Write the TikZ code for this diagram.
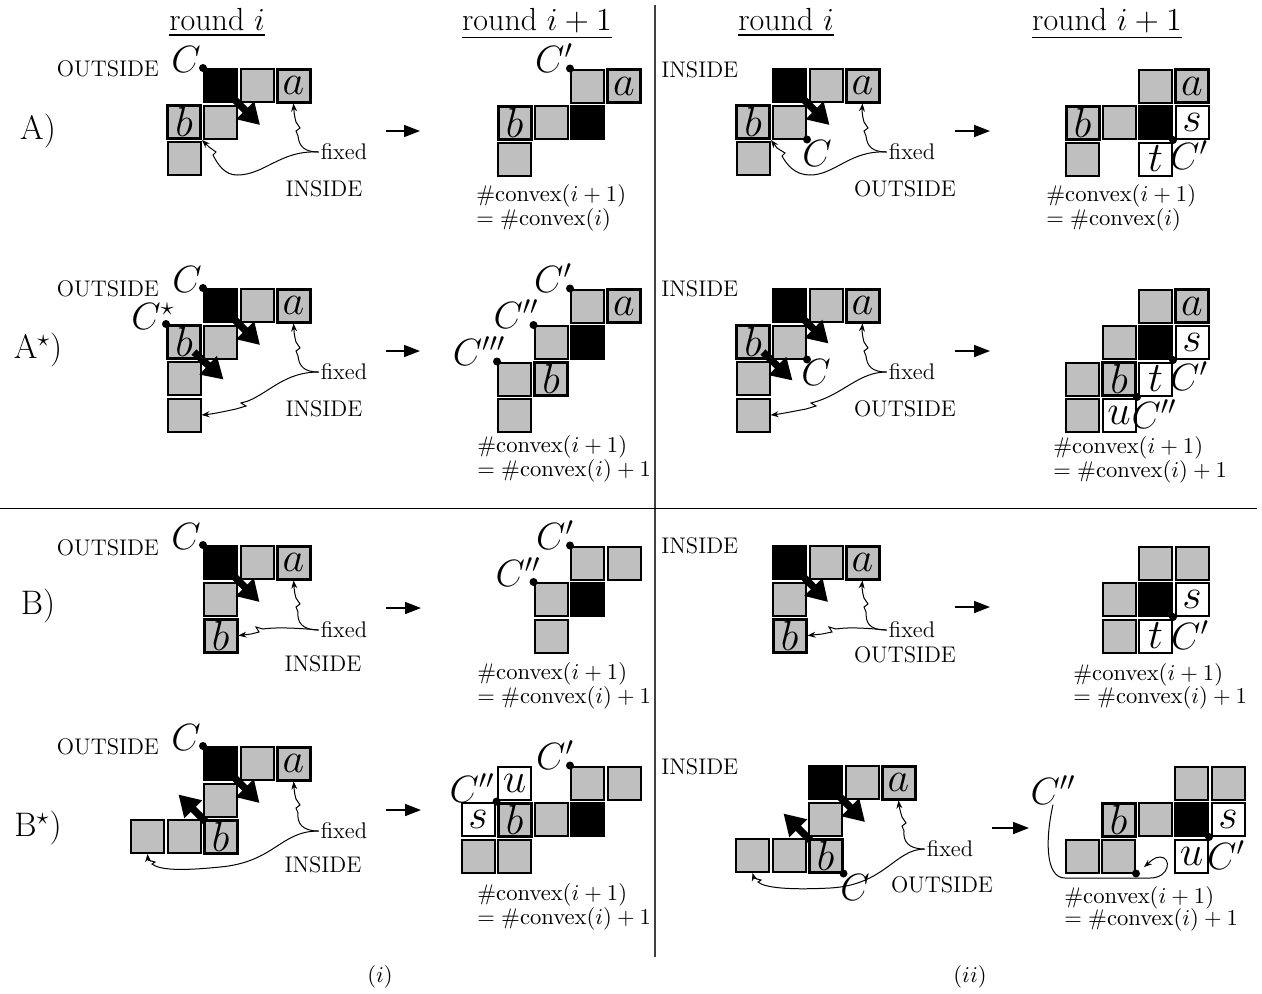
\RequirePackage{fix-cm}
\documentclass[tikz,border=0pt]{standalone}
\usepackage{amsmath}
\usepackage{tikz}
\usetikzlibrary{calc,arrows.meta}

\tikzset{
  cell/.style={draw, line width=1pt, fill=gray!50, minimum size=16.5pt, inner sep=0pt, font=\fontsize{21}{21}\selectfont},
  lcell/.style={cell, line width=1.5pt},
  blk/.style={cell, fill=black},
  wcell/.style={cell, fill=white},
  txt/.style={font=\fontsize{11.3}{13}\selectfont, inner sep=1pt},
  clab/.style={font=\fontsize{19}{19}\selectfont, inner sep=0pt},
  cvx/.style={font=\fontsize{11.3}{13}\selectfont, inner sep=0pt, anchor=base west},
  hd/.style={font=\fontsize{16}{18}\selectfont, anchor=base},
  rowlab/.style={font=\fontsize{17}{19}\selectfont},
  mv/.style={line width=3.6pt, -{Triangle[length=10.5pt,width=12pt]}},
  go/.style={line width=0.8pt, -{Triangle[length=8pt,width=6pt]}},
  fx/.style={line width=0.5pt, -{Stealth[length=4pt,width=3pt]}},
  pt/.style={circle, fill=black, inner sep=0pt, minimum size=4pt}
}

\begin{document}
\begin{tikzpicture}[x=0.5pt,y=-0.5pt]
    \useasboundingbox (0,0) rectangle (1262,993);

    % frame
    \draw[line width=0.8pt, black!75] (655,5) -- (655,957);
    \draw[line width=0.5pt] (0,508) -- (1257,508);

    \node[hd] (h1) at (217,30) {\underline{round $i$}};
    \node[hd] (h2) at (537,30) {\underline{round $i+1$}};
    \node[hd] (h3) at (786,30) {\underline{round $i$}};
    \node[hd] (h4) at (1107,30) {\underline{round $i+1$}};

    \node[rowlab] (lA) at (38,131) {A)};
    \node[rowlab] (lAs) at (38,350) {A$^\star$)};
    \node[rowlab] (lB) at (38,606) {B)};
    \node[rowlab] (lBs) at (38,828) {B$^\star$)};

    \node[txt] (capi) at (380,977) {$(i)$};
    \node[txt] (capii) at (970,977) {$(ii)$};

    % A, (i), round i
    \node[blk] (a1k) at (220.5,85.5) {};
    \node[cell] (a1g1) at ($(a1k)+(36.5,0)$) {};
    \node[lcell] (a1a) at ($(a1k)+(73,0)$) {$a$};
    \node[lcell] (a1b) at ($(a1k)+(-36.5,36.5)$) {$b$};
    \node[cell] (a1g2) at ($(a1k)+(0,36.5)$) {};
    \node[cell] (a1g3) at ($(a1k)+(-36.5,73)$) {};
    \node[pt] (a1d) at (a1k.north west) {};
    \node[clab] (a1C) at (186,60) {$C$};
    \node[txt] (a1out) at (108,69) {OUTSIDE};
    \node[txt] (a1fix) at (344,152) {fixed};
    \node[txt] (a1in) at (324,189) {INSIDE};
    \coordinate (a1m) at ($(a1k)+(39.5,39.5)$);
    \draw[mv] (a1k.center) -- (a1m);
    \draw[fx] (a1fix.west) .. controls (304,152) and (299,146) .. (298,136) -- (296,131) -- (300,128) -- (296,122) .. controls (294,115) and (294,110) .. (a1a.south);
    \draw[fx] (a1fix.west) .. controls (280,150) and (265,175) .. (237,175) .. controls (225,175) and (218,165) .. (213,155) -- (216,152) -- (209,147) -- (a1b.south east);
    \coordinate (a1p) at (386,131);
    \coordinate (a1q) at (420,131);
    \draw[go] (a1p) -- (a1q);

    % A, (i), round i+1
    \node[blk] (a2k) at (587.5,122.5) {};
    \node[cell] (a2g1) at ($(a2k)+(0,-36.5)$) {};
    \node[lcell] (a2a) at ($(a2k)+(36.5,-36.5)$) {$a$};
    \node[cell] (a2g2) at ($(a2k)+(-36.5,0)$) {};
    \node[lcell] (a2b) at ($(a2k)+(-73,0)$) {$b$};
    \node[cell] (a2g3) at ($(a2k)+(-73,36.5)$) {};
    \node[pt] (a2d) at (a2g1.north west) {};
    \node[clab] (a2C) at (554,58) {$C'$};
    \node[cvx] (a2v1) at (476,201) {$\#\mathrm{convex}(i+1)$};
    \node[cvx] (a2v2) at (476,225) {$=\#\mathrm{convex}(i)$};

    % A, (ii), round i
    \node[txt, anchor=west] (a3in) at (659,70) {INSIDE};
    \node[blk] (a3k) at (789.5,85.5) {};
    \node[cell] (a3g1) at ($(a3k)+(36.5,0)$) {};
    \node[lcell] (a3a) at ($(a3k)+(73,0)$) {$a$};
    \node[lcell] (a3b) at ($(a3k)+(-36.5,36.5)$) {$b$};
    \node[cell] (a3g2) at ($(a3k)+(0,36.5)$) {};
    \node[cell] (a3g3) at ($(a3k)+(-36.5,73)$) {};
    \node[pt] (a3d) at (a3g2.south east) {};
    \node[clab] (a3C) at (817,154) {$C$};
    \node[txt] (a3fix) at (912,152) {fixed};
    \node[txt] (a3out) at (905,189) {OUTSIDE};
    \coordinate (a3m) at ($(a3k)+(40,39.5)$);
    \draw[mv] (a3k.center) -- (a3m);
    \draw[fx] (a3fix.west) .. controls (872,152) and (867,146) .. (866,136) -- (864,131) -- (868,128) -- (864,122) .. controls (862,115) and (862,110) .. (a3a.south);
    \draw[fx] (a3fix.west) .. controls (850,150) and (835,175) .. (810,175) .. controls (795,175) and (787,165) .. (782,156) -- (785,153) -- (777,148) -- (a3b.south east);
    \coordinate (a3p) at (955,131);
    \coordinate (a3q) at (990,131);
    \draw[go] (a3p) -- (a3q);

    % A, (ii), round i+1
    \node[blk] (a4k) at (1155.5,122.5) {};
    \node[cell] (a4g1) at ($(a4k)+(0,-36.5)$) {};
    \node[lcell] (a4a) at ($(a4k)+(36.5,-36.5)$) {$a$};
    \node[wcell] (a4s) at ($(a4k)+(36.5,0)$) {$s$};
    \node[cell] (a4g2) at ($(a4k)+(-36.5,0)$) {};
    \node[lcell] (a4b) at ($(a4k)+(-73,0)$) {$b$};
    \node[cell] (a4g3) at ($(a4k)+(-73,36.5)$) {};
    \node[wcell] (a4t) at ($(a4k)+(0,36.5)$) {$t$};
    \node[pt] (a4d) at (a4k.south east) {};
    \node[clab] (a4C) at (1189,155) {$C'$};
    \node[cvx] (a4v1) at (1046,201) {$\#\mathrm{convex}(i+1)$};
    \node[cvx] (a4v2) at (1046,225) {$=\#\mathrm{convex}(i)$};

    % A*, (i), round i
    \node[blk] (as1k) at (220.5,305.5) {};
    \node[cell] (as1g1) at ($(as1k)+(36.5,0)$) {};
    \node[lcell] (as1a) at ($(as1k)+(73,0)$) {$a$};
    \node[lcell] (as1b) at ($(as1k)+(-36.5,36.5)$) {$b$};
    \node[cell] (as1g2) at ($(as1k)+(0,36.5)$) {};
    \node[cell] (as1g3) at ($(as1k)+(-36.5,73)$) {};
    \node[cell] (as1g4) at ($(as1k)+(-36.5,109.5)$) {};
    \coordinate (as1m) at ($(as1k)+(39.5,39.5)$);
    \coordinate (as1n) at ($(as1b)+(39.5,37.5)$);
    \draw[mv] (as1k.center) -- (as1m);
    \draw[mv] ($(as1b)+(10,10)$) -- (as1n);
    \node[pt] (as1d) at (as1k.north west) {};
    \node[pt] (as1e) at (as1b.north west) {};
    \node[clab] (as1C) at (187,280) {$C$};
    \node[clab] (as1Cs) at (153,316) {$C^\star$};
    \node[txt] (as1out) at (108,289) {OUTSIDE};
    \node[txt] (as1fix) at (344,372) {fixed};
    \node[txt] (as1in) at (324,409) {INSIDE};
    \draw[fx] (as1fix.west) .. controls (304,372) and (299,366) .. (298,356) -- (296,351) -- (300,348) -- (296,342) .. controls (294,335) and (294,330) .. (as1a.south);
    \draw[fx] (as1fix.west) .. controls (285,372) and (270,392) .. (248,401) -- (241,403) -- (246,406) -- (236,409) .. controls (222,412) and (212,414) .. (as1g4.east);
    \coordinate (as1p) at (386,351);
    \coordinate (as1q) at (420,351);
    \draw[go] (as1p) -- (as1q);

    % A*, (i), round i+1
    \node[blk] (as2k) at (587.5,342.5) {};
    \node[cell] (as2g1) at ($(as2k)+(0,-36.5)$) {};
    \node[lcell] (as2a) at ($(as2k)+(36.5,-36.5)$) {$a$};
    \node[cell] (as2g2) at ($(as2k)+(-36.5,0)$) {};
    \node[lcell] (as2b) at ($(as2k)+(-36.5,36.5)$) {$b$};
    \node[cell] (as2g3) at ($(as2k)+(-73,36.5)$) {};
    \node[cell] (as2g4) at ($(as2k)+(-73,73)$) {};
    \node[pt] (as2d1) at (as2g1.north west) {};
    \node[pt] (as2d2) at (as2g2.north west) {};
    \node[pt] (as2d3) at (as2g3.north west) {};
    \node[clab] (as2C1) at (553,278) {$C'$};
    \node[clab] (as2C2) at (516,314) {$C''$};
    \node[clab] (as2C3) at (479,351) {$C'''$};
    \node[cvx] (as2v1) at (477,452) {$\#\mathrm{convex}(i+1)$};
    \node[cvx] (as2v2) at (477,476) {$=\#\mathrm{convex}(i)+1$};

    % A*, (ii), round i
    \node[txt, anchor=west] (as3in) at (659,289) {INSIDE};
    \node[blk] (as3k) at (789.5,305.5) {};
    \node[cell] (as3g1) at ($(as3k)+(36.5,0)$) {};
    \node[lcell] (as3a) at ($(as3k)+(73,0)$) {$a$};
    \node[lcell] (as3b) at ($(as3k)+(-36.5,36.5)$) {$b$};
    \node[cell] (as3g2) at ($(as3k)+(0,36.5)$) {};
    \node[cell] (as3g3) at ($(as3k)+(-36.5,73)$) {};
    \node[cell] (as3g4) at ($(as3k)+(-36.5,109.5)$) {};
    \coordinate (as3m) at ($(as3k)+(39,38)$);
    \coordinate (as3n) at ($(as3b)+(39.5,38.5)$);
    \draw[mv] (as3k.center) -- (as3m);
    \draw[mv] ($(as3b)+(10,10)$) -- (as3n);
    \node[pt] (as3d) at (as3g2.south east) {};
    \node[clab] (as3C) at (816,373) {$C$};
    \node[txt] (as3fix) at (912,372) {fixed};
    \node[txt] (as3out) at (905,409) {OUTSIDE};
    \draw[fx] (as3fix.west) .. controls (872,372) and (867,366) .. (866,356) -- (864,351) -- (868,348) -- (864,342) .. controls (862,335) and (862,330) .. (as3a.south);
    \draw[fx] (as3fix.west) .. controls (860,372) and (845,392) .. (818,401) -- (811,403) -- (816,406) -- (806,409) .. controls (790,412) and (780,414) .. (as3g4.east);
    \coordinate (as3p) at (955,351);
    \coordinate (as3q) at (990,351);
    \draw[go] (as3p) -- (as3q);

    % A*, (ii), round i+1
    \node[blk] (as4k) at (1155.5,342.5) {};
    \node[cell] (as4g1) at ($(as4k)+(0,-36.5)$) {};
    \node[lcell] (as4a) at ($(as4k)+(36.5,-36.5)$) {$a$};
    \node[wcell] (as4s) at ($(as4k)+(36.5,0)$) {$s$};
    \node[cell] (as4g2) at ($(as4k)+(-36.5,0)$) {};
    \node[cell] (as4g3) at ($(as4k)+(-73,36.5)$) {};
    \node[lcell] (as4b) at ($(as4k)+(-36.5,36.5)$) {$b$};
    \node[wcell] (as4t) at ($(as4k)+(0,36.5)$) {$t$};
    \node[cell] (as4g4) at ($(as4k)+(-73,73)$) {};
    \node[wcell] (as4u) at ($(as4k)+(-36.5,73)$) {$u$};
    \node[pt] (as4d1) at (as4k.south east) {};
    \node[pt] (as4d2) at (as4b.south east) {};
    \node[clab] (as4C1) at (1189,376) {$C'$};
    \node[clab] (as4C2) at (1154,414) {$C''$};
    \node[cvx] (as4v1) at (1053,453) {$\#\mathrm{convex}(i+1)$};
    \node[cvx] (as4v2) at (1053,477) {$=\#\mathrm{convex}(i)+1$};

    % B, (i), round i
    \node[blk] (b1k) at (220.5,562.5) {};
    \node[cell] (b1g1) at ($(b1k)+(36.5,0)$) {};
    \node[lcell] (b1a) at ($(b1k)+(73,0)$) {$a$};
    \node[cell] (b1g2) at ($(b1k)+(0,36.5)$) {};
    \node[lcell] (b1b) at ($(b1k)+(0,73)$) {$b$};
    \coordinate (b1m) at ($(b1k)+(39,39.5)$);
    \draw[mv] (b1k.center) -- (b1m);
    \node[pt] (b1d) at (b1k.north west) {};
    \node[clab] (b1C) at (186,536) {$C$};
    \node[txt] (b1out) at (108,548) {OUTSIDE};
    \node[txt] (b1fix) at (344,630) {fixed};
    \node[txt] (b1in) at (323,664) {INSIDE};
    \draw[fx] (b1fix.west) .. controls (302,630) and (297,622) .. (298,612) -- (296,607) -- (300,604) -- (296,598) .. controls (294,592) and (294,585) .. (b1a.south);
    \draw[fx] (b1fix.west) .. controls (298,628) and (276,627) .. (263,629) -- (256,627) -- (259,632) -- (251,634) -- (b1b.east);
    \coordinate (b1p) at (386,608);
    \coordinate (b1q) at (421,608);
    \draw[go] (b1p) -- (b1q);

    % B, (i), round i+1
    \node[blk] (b2k) at (587.5,599.5) {};
    \node[cell] (b2g1) at ($(b2k)+(0,-36.5)$) {};
    \node[cell] (b2g2) at ($(b2k)+(36.5,-36.5)$) {};
    \node[cell] (b2g3) at ($(b2k)+(-36.5,0)$) {};
    \node[cell] (b2g4) at ($(b2k)+(-36.5,36.5)$) {};
    \node[pt] (b2d1) at (b2g1.north west) {};
    \node[pt] (b2d2) at (b2g3.north west) {};
    \node[clab] (b2C1) at (555,535) {$C'$};
    \node[clab] (b2C2) at (518,572) {$C''$};
    \node[cvx] (b2v1) at (477,679) {$\#\mathrm{convex}(i+1)$};
    \node[cvx] (b2v2) at (477,703) {$=\#\mathrm{convex}(i)+1$};

    % B, (ii), round i
    \node[txt, anchor=west] (b3in) at (659,546) {INSIDE};
    \node[blk] (b3k) at (789.5,562.5) {};
    \node[cell] (b3g1) at ($(b3k)+(36.5,0)$) {};
    \node[lcell] (b3a) at ($(b3k)+(73,0)$) {$a$};
    \node[cell] (b3g2) at ($(b3k)+(0,36.5)$) {};
    \node[lcell] (b3b) at ($(b3k)+(0,73)$) {$b$};
    \coordinate (b3m) at ($(b3k)+(38.5,39.5)$);
    \draw[mv] (b3k.center) -- (b3m);
    \node[txt] (b3fix) at (912,630) {fixed};
    \node[txt] (b3out) at (905,655) {OUTSIDE};
    \draw[fx] (b3fix.west) .. controls (868,630) and (866,622) .. (866,612) -- (864,607) -- (868,604) -- (864,598) .. controls (862,592) and (862,585) .. (b3a.south);
    \draw[fx] (b3fix.west) .. controls (866,628) and (848,627) .. (836,629) -- (829,627) -- (832,632) -- (822,634) -- (b3b.east);
    \coordinate (b3p) at (955,607);
    \coordinate (b3q) at (990,607);
    \draw[go] (b3p) -- (b3q);

    % B, (ii), round i+1
    \node[blk] (b4k) at (1155.5,599.5) {};
    \node[cell] (b4g1) at ($(b4k)+(0,-36.5)$) {};
    \node[cell] (b4g2) at ($(b4k)+(36.5,-36.5)$) {};
    \node[wcell] (b4s) at ($(b4k)+(36.5,0)$) {$s$};
    \node[cell] (b4g3) at ($(b4k)+(-36.5,0)$) {};
    \node[cell] (b4g4) at ($(b4k)+(-36.5,36.5)$) {};
    \node[wcell] (b4t) at ($(b4k)+(0,36.5)$) {$t$};
    \node[pt] (b4d) at (b4k.south east) {};
    \node[clab] (b4C) at (1190,635) {$C'$};
    \node[cvx] (b4v1) at (1073,680) {$\#\mathrm{convex}(i+1)$};
    \node[cvx] (b4v2) at (1073,703) {$=\#\mathrm{convex}(i)+1$};

    % B*, (i), round i
    \node[blk] (bs1k) at (220.5,763.5) {};
    \node[cell] (bs1g1) at ($(bs1k)+(36.5,0)$) {};
    \node[lcell] (bs1a) at ($(bs1k)+(73,0)$) {$a$};
    \node[cell] (bs1g2) at ($(bs1k)+(0,36.5)$) {};
    \node[lcell] (bs1b) at ($(bs1k)+(0,73)$) {$b$};
    \node[cell] (bs1g3) at ($(bs1k)+(-36.5,73)$) {};
    \node[cell] (bs1g4) at ($(bs1k)+(-73,73)$) {};
    \coordinate (bs1m) at ($(bs1k)+(39,39.5)$);
    \coordinate (bs1n) at ($(bs1b.north west)+(-24,-24)$);
    \draw[mv] (bs1k.center) -- (bs1m);
    \draw[mv] ($(bs1b.north west)+(3,3)$) -- (bs1n);
    \node[pt] (bs1d) at (bs1k.north west) {};
    \node[clab] (bs1C) at (186,737) {$C$};
    \node[txt] (bs1out) at (108,747) {OUTSIDE};
    \node[txt] (bs1fix) at (344,831) {fixed};
    \node[txt] (bs1in) at (323,865) {INSIDE};
    \draw[fx] (bs1fix.west) .. controls (302,831) and (297,823) .. (298,813) -- (296,808) -- (300,805) -- (296,799) .. controls (294,793) and (294,786) .. (bs1a.south);
    \draw[fx] (bs1fix.west) .. controls (280,831) and (275,862) .. (220,867) .. controls (180,871) and (160,870) .. (152,864) -- (155,862) -- (148,860) -- (bs1g4.south);
    \coordinate (bs1p) at (386,810);
    \coordinate (bs1q) at (421,810);
    \draw[go] (bs1p) -- (bs1q);

    % B*, (i), round i+1
    \node[blk] (bs2k) at (587.5,819.5) {};
    \node[cell] (bs2g1) at ($(bs2k)+(0,-36.5)$) {};
    \node[cell] (bs2g2) at ($(bs2k)+(36.5,-36.5)$) {};
    \node[cell] (bs2g3) at ($(bs2k)+(-36.5,0)$) {};
    \node[lcell] (bs2b) at ($(bs2k)+(-73,0)$) {$b$};
    \node[wcell] (bs2s) at ($(bs2k)+(-109.5,0)$) {$s$};
    \node[wcell] (bs2u) at ($(bs2k)+(-73,-36.5)$) {$u$};
    \node[cell] (bs2g4) at ($(bs2k)+(-109.5,36.5)$) {};
    \node[cell] (bs2g5) at ($(bs2k)+(-73,36.5)$) {};
    \node[pt] (bs2d1) at (bs2g1.north west) {};
    \node[pt] (bs2d2) at (bs2b.north west) {};
    \node[clab] (bs2C1) at (555,755) {$C'$};
    \node[clab] (bs2C2) at (472,788) {$C''$};
    \node[cvx] (bs2v1) at (477,900) {$\#\mathrm{convex}(i+1)$};
    \node[cvx] (bs2v2) at (477,924) {$=\#\mathrm{convex}(i)+1$};

    % B*, (ii), round i
    \node[txt, anchor=west] (bs3in) at (659,767) {INSIDE};
    \node[blk] (bs3k) at (825.5,782.5) {};
    \node[cell] (bs3g1) at ($(bs3k)+(36.5,0)$) {};
    \node[lcell] (bs3a) at ($(bs3k)+(73,0)$) {$a$};
    \node[cell] (bs3g2) at ($(bs3k)+(0,36.5)$) {};
    \node[lcell] (bs3b) at ($(bs3k)+(0,73)$) {$b$};
    \node[cell] (bs3g3) at ($(bs3k)+(-36.5,73)$) {};
    \node[cell] (bs3g4) at ($(bs3k)+(-73,73)$) {};
    \coordinate (bs3m) at ($(bs3k)+(39.5,39.5)$);
    \coordinate (bs3n) at ($(bs3b.north west)+(-24,-24)$);
    \draw[mv] (bs3k.center) -- (bs3m);
    \draw[mv] ($(bs3b.north west)+(3,3)$) -- (bs3n);
    \node[pt] (bs3d) at (bs3b.south east) {};
    \node[clab] (bs3C) at (855,887) {$C$};
    \node[txt] (bs3fix) at (950,849) {fixed};
    \node[txt] (bs3out) at (942,885) {OUTSIDE};
    \draw[fx] (bs3fix.west) .. controls (908,849) and (903,841) .. (904,831) -- (902,826) -- (906,823) -- (902,817) .. controls (900,811) and (899,805) .. (bs3a.south);
    \draw[fx] (bs3fix.west) .. controls (895,849) and (885,885) .. (830,888) .. controls (790,890) and (765,888) .. (758,882) -- (761,880) -- (754,878) -- (bs3g4.south);
    \coordinate (bs3p) at (992,828);
    \coordinate (bs3q) at (1029,828);
    \draw[go] (bs3p) -- (bs3q);

    % B*, (ii), round i+1
    \node[blk] (bs4k) at (1191.5,819.5) {};
    \node[cell] (bs4g1) at ($(bs4k)+(0,-36.5)$) {};
    \node[cell] (bs4g2) at ($(bs4k)+(36.5,-36.5)$) {};
    \node[wcell] (bs4s) at ($(bs4k)+(36.5,0)$) {$s$};
    \node[cell] (bs4g3) at ($(bs4k)+(-36.5,0)$) {};
    \node[lcell] (bs4b) at ($(bs4k)+(-73,0)$) {$b$};
    \node[cell] (bs4g4) at ($(bs4k)+(-109.5,36.5)$) {};
    \node[cell] (bs4g5) at ($(bs4k)+(-73,36.5)$) {};
    \node[wcell] (bs4u) at ($(bs4k)+(0,36.5)$) {$u$};
    \node[pt] (bs4d1) at (bs4k.south east) {};
    \node[pt] (bs4d2) at (bs4g5.south east) {};
    \node[clab] (bs4C1) at (1226,855) {$C'$};
    \node[clab] (bs4C2) at (1053,790) {$C''$};
    \coordinate (bs4e) at (1144,867);
    \draw[fx] (bs4C2.south) .. controls (1046,835) and (1044,878) .. (1065,878) -- (1150,878) .. controls (1170,878) and (1172,857) .. (1160,857) .. controls (1154,857) and (1150,862) .. (bs4e);
    \node[cvx] (bs4v1) at (1064,903) {$\#\mathrm{convex}(i+1)$};
    \node[cvx] (bs4v2) at (1064,925) {$=\#\mathrm{convex}(i)+1$};

\end{tikzpicture}
\end{document}
